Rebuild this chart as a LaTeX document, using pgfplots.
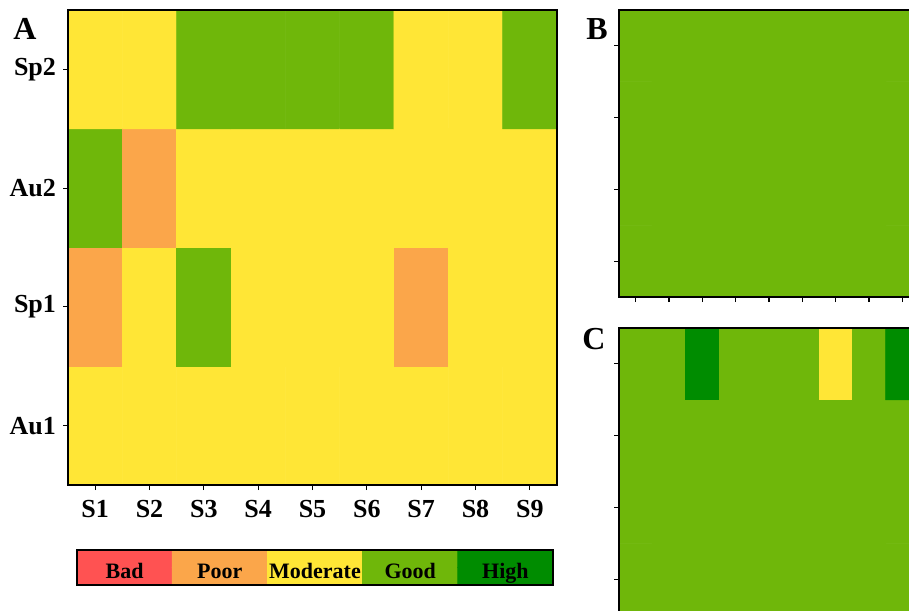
\documentclass[border=0pt]{standalone}
\usepackage{fontspec}
\setmainfont{Liberation Serif}
\usepackage{pgfplots}
\pgfplotsset{compat=1.18}
\usepackage{pgfplotstable}

\pgfplotstableread{
x y c
1 1 2
2 1 2
3 1 2
4 1 2
5 1 2
6 1 2
7 1 2
8 1 2
9 1 2
1 2 1
2 2 2
3 2 3
4 2 2
5 2 2
6 2 2
7 2 1
8 2 2
9 2 2
1 3 3
2 3 1
3 3 2
4 3 2
5 3 2
6 3 2
7 3 2
8 3 2
9 3 2
1 4 2
2 4 2
3 4 3
4 4 3
5 4 3
6 4 3
7 4 2
8 4 2
9 4 3
}\dataA

\pgfplotstableread{
x y c
1 1 3
2 1 3
3 1 3
4 1 3
5 1 3
6 1 3
7 1 3
8 1 3
9 1 3
1 2 3
2 2 3
3 2 3
4 2 3
5 2 3
6 2 3
7 2 3
8 2 3
9 2 3
1 3 3
2 3 3
3 3 3
4 3 3
5 3 3
6 3 3
7 3 3
8 3 3
9 3 3
1 4 3
2 4 3
3 4 3
4 4 3
5 4 3
6 4 3
7 4 3
8 4 3
9 4 3
}\dataB

\pgfplotstableread{
x y c
1 1 3
2 1 3
3 1 3
4 1 3
5 1 3
6 1 3
7 1 3
8 1 3
9 1 3
1 2 3
2 2 3
3 2 3
4 2 3
5 2 3
6 2 3
7 2 3
8 2 3
9 2 3
1 3 3
2 3 3
3 3 3
4 3 3
5 3 3
6 3 3
7 3 3
8 3 3
9 3 3
1 4 3
2 4 3
3 4 4
4 4 3
5 4 3
6 4 3
7 4 2
8 4 3
9 4 4
}\dataC

\pgfplotstableread{
x y c
0 -0.25 0
1 -0.25 1
2 -0.25 2
3 -0.25 3
4 -0.25 4
0 0.25 0
1 0.25 1
2 0.25 2
3 0.25 3
4 0.25 4
}\dataLeg

\pgfplotsset{
  qual/.style={
    colormap={qual}{rgb255=(255,82,82) rgb255=(251,166,74) rgb255=(255,230,54) rgb255=(111,183,10) rgb255=(0,140,0)},
    colormap access=direct,
    scale only axis, enlargelimits=false,
    anchor=north west,
    axis on top,
    axis line style={line width=0.9pt, black},
  },
  grid9/.style={
    qual,
    xmin=0.5, xmax=9.5, ymin=0.5, ymax=4.5,
    xtick={1,...,9}, ytick={1,...,4},
    tick align=outside, tick pos=left,
    major tick length=2.5pt,
    tick style={black, line width=0.6pt},
    ticklabel style={font=\bfseries\fontsize{13}{15}\selectfont, text=black},
    xticklabel style={yshift=-1.5pt},
  },
}

\begin{document}
\begin{tikzpicture}
\useasboundingbox (0,0) rectangle (454.5pt,-305pt);
\clip (0,0) rectangle (454.5pt,-305pt);

% Panel A
\begin{axis}[grid9, at={(34pt,-5pt)}, width=244.5pt, height=237.5pt,
  xticklabels={S1,S2,S3,S4,S5,S6,S7,S8,S9},
  yticklabels={Au1,Sp1,Au2,Sp2}]
\addplot[matrix plot*, mesh/cols=9, point meta=explicit] table[x=x, y=y, meta=c] {\dataA};
\end{axis}

% Panel B
\begin{axis}[grid9, at={(309.5pt,-5pt)}, width=150pt, height=143.5pt,
  xticklabels={}, yticklabels={}]
\addplot[matrix plot*, mesh/cols=9, point meta=explicit] table[x=x, y=y, meta=c] {\dataB};
\end{axis}

% Panel C
\begin{axis}[grid9, at={(309.5pt,-164pt)}, width=150pt, height=143.5pt,
  xticklabels={}, yticklabels={}]
\addplot[matrix plot*, mesh/cols=9, point meta=explicit] table[x=x, y=y, meta=c] {\dataC};
\end{axis}

% Legend
\begin{axis}[qual, at={(38.5pt,-275pt)}, width=238pt, height=17.5pt,
  xmin=-0.5, xmax=4.5, ymin=-0.5, ymax=0.5,
  xtick=\empty, ytick=\empty, axis line style={line width=1pt, black}]
\addplot[matrix plot*, mesh/cols=5, point meta=explicit] table[x=x, y=y, meta=c] {\dataLeg};
\foreach \i/\t in {0/Bad,1/Poor,2/Moderate,3/Good,4/High}{
  \edef\tmp{\noexpand\node[font=\noexpand\bfseries\noexpand\fontsize{11}{13}\noexpand\selectfont, text=black, anchor=base] at (axis cs:\i,-0.3) {\t};}
  \tmp
}
\end{axis}

\node[font=\bfseries\fontsize{16}{18}\selectfont] at (12.5pt,-14.5pt) {A};
\node[font=\bfseries\fontsize{16}{18}\selectfont] at (298.5pt,-14.5pt) {B};
\node[font=\bfseries\fontsize{16}{18}\selectfont] at (297pt,-169.5pt) {C};
\end{tikzpicture}
\end{document}
